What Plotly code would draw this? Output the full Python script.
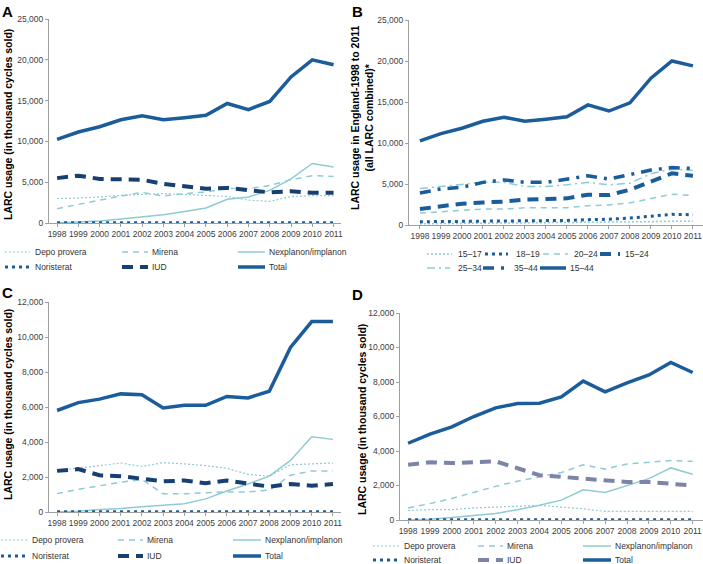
import plotly.graph_objects as go

years = list(range(1998, 2012))
year_labels = [str(y) for y in years]

# Panel A (all ages)
a_depo = [3000, 3050, 3200, 3400, 3500, 3600, 3500, 3400, 3250, 2800, 2650, 3250, 3350, 3350]
a_mirena = [1750, 2300, 2800, 3300, 3750, 3300, 3600, 3800, 4250, 4200, 4600, 5300, 5800, 5700]
a_nexplanon = [0, 100, 250, 500, 750, 1000, 1400, 1850, 2900, 3200, 4000, 5400, 7300, 6850]
a_noristerat = [30, 30, 30, 30, 30, 30, 30, 30, 30, 30, 30, 30, 30, 30]
a_iud = [5500, 5800, 5400, 5400, 5300, 4800, 4500, 4200, 4300, 4000, 3750, 3900, 3700, 3700]
a_total = [10250, 11150, 11800, 12650, 13150, 12650, 12900, 13200, 14650, 13900, 14900, 17900, 20000, 19400]

# Panel B (age groups, all LARC combined)
b_15_17 = [150, 170, 180, 200, 200, 220, 220, 240, 280, 300, 350, 400, 450, 450]
b_18_19 = [400, 420, 440, 460, 470, 500, 520, 560, 650, 700, 850, 1050, 1300, 1250]
b_20_24 = [1450, 1600, 1800, 1950, 1950, 2100, 2100, 2100, 2350, 2450, 2700, 3250, 3750, 3600]
b_15_24 = [1950, 2250, 2600, 2750, 2850, 3100, 3150, 3250, 3700, 3650, 4300, 5300, 6300, 6000]
b_25_34 = [4450, 4700, 5000, 5200, 5200, 4700, 4700, 4900, 5200, 4900, 5100, 6250, 6800, 6650]
b_35_44 = [3900, 4400, 4600, 5200, 5500, 5200, 5200, 5600, 6000, 5600, 6100, 6700, 7000, 6900]
b_15_44 = [10250, 11150, 11800, 12650, 13150, 12650, 12900, 13200, 14650, 13900, 14900, 17900, 20000, 19400]

# Panel C
c_depo = [2400, 2500, 2650, 2800, 2600, 2820, 2750, 2650, 2500, 2150, 2050, 2700, 2750, 2800]
c_mirena = [1050, 1300, 1500, 1700, 1850, 1050, 1050, 1100, 1150, 1150, 1250, 2100, 2350, 2350]
c_nexplanon = [0, 50, 150, 200, 300, 380, 470, 750, 1200, 1600, 2050, 2950, 4300, 4150]
c_noristerat = [20, 20, 20, 20, 20, 20, 20, 20, 20, 20, 20, 20, 20, 20]
c_iud = [2350, 2450, 2100, 2050, 1900, 1750, 1800, 1650, 1800, 1600, 1450, 1600, 1500, 1600]
c_total = [5800, 6250, 6450, 6750, 6700, 5950, 6100, 6100, 6600, 6520, 6900, 9400, 10880, 10880]

# Panel D
d_depo = [550, 600, 600, 700, 750, 800, 850, 750, 650, 500, 500, 500, 500, 500]
d_mirena = [700, 950, 1250, 1600, 1950, 2250, 2500, 2750, 3200, 2950, 3250, 3350, 3450, 3400]
d_nexplanon = [0, 50, 150, 280, 380, 600, 850, 1150, 1750, 1600, 2000, 2400, 3020, 2650]
d_noristerat = [20, 20, 20, 20, 20, 20, 20, 20, 20, 20, 20, 20, 20, 20]
d_iud = [3200, 3350, 3300, 3350, 3400, 3000, 2600, 2500, 2400, 2350, 2200, 2200, 2100, 2000]
d_total = [4450, 4980, 5400, 6000, 6500, 6750, 6770, 7140, 8050, 7430, 7950, 8410, 9130, 8550]

LIGHT = "#8ecbd4"
DARK = "#1b5c9b"
NAVY = "#173f70"
GREYBLUE = "#7c84a8"
FONT = "Liberation Sans, Arial, sans-serif"

W, H = 703, 564
def px(v):
    return v / W
def py(v):
    return (H - v) / H

# line styles
S_DEPO = dict(color=LIGHT, width=1.2, dash="2px,2px")
S_MIRENA = dict(color=LIGHT, width=1.5, dash="6px,5px")
S_NEXP = dict(color=LIGHT, width=1.5, dash="solid")
S_NORI = dict(color=DARK, width=3, dash="3px,4px")
S_IUD = dict(color=NAVY, width=4, dash="11px,7px")
S_IUD_D = dict(color=GREYBLUE, width=4, dash="11px,7px")
S_TOTAL = dict(color=DARK, width=3.5, dash="solid")
S_1517 = dict(color=LIGHT, width=1.5, dash="2px,2px")
S_1819 = dict(color=DARK, width=3, dash="3px,4px")
S_2024 = dict(color=LIGHT, width=1.5, dash="6px,5px")
S_1524 = dict(color=DARK, width=4, dash="11px,7px")
S_2534 = dict(color=LIGHT, width=1.5, dash="8px,4px,2px,4px")
S_3544 = dict(color=DARK, width=3.5, dash="11px,7px,3px,7px")
S_1544 = dict(color=DARK, width=3.5, dash="solid")

fig = go.Figure()
shapes = []
annotations = []
legfont = dict(family=FONT, size=8.5, color="#333333")

def add(x_ax, y_ax, y, name, style):
    fig.add_trace(go.Scatter(
        x=years, y=y, name=name, mode="lines", xaxis=x_ax, yaxis=y_ax,
        line=style, showlegend=False, hoverinfo="skip"))

def legend_item(name, style, x0, x1, xt, yy):
    shapes.append(dict(type="line", xref="paper", yref="paper",
                       x0=px(x0), x1=px(x1), y0=py(yy), y1=py(yy),
                       line=style))
    annotations.append(dict(text=name, xref="paper", yref="paper",
                            x=px(xt), y=py(yy), xanchor="left", yanchor="middle",
                            showarrow=False, font=legfont))

def product_panel(xa, ya, depo, mirena, nexp, nori, iud, total, iud_style, cols, rows):
    add(xa, ya, depo, "Depo provera", S_DEPO)
    add(xa, ya, mirena, "Mirena", S_MIRENA)
    add(xa, ya, nexp, "Nexplanon/implanon", S_NEXP)
    add(xa, ya, nori, "Noristerat", S_NORI)
    add(xa, ya, iud, "IUD", iud_style)
    add(xa, ya, total, "Total", S_TOTAL)
    items = [("Depo provera", S_DEPO), ("Mirena", S_MIRENA), ("Nexplanon/implanon", S_NEXP),
             ("Noristerat", S_NORI), ("IUD", iud_style), ("Total", S_TOTAL)]
    for i, (nm, st) in enumerate(items):
        c = cols[i % 3]
        legend_item(nm, st, c[0], c[1], c[2], rows[i // 3])

product_panel("x", "y", a_depo, a_mirena, a_nexplanon, a_noristerat, a_iud, a_total, S_IUD,
              [(5, 30, 33), (122, 148, 150), (238, 265, 267)], [252, 267])

b_items = [("15–17", b_15_17, S_1517), ("18–19", b_18_19, S_1819), ("20–24", b_20_24, S_2024),
           ("15–24", b_15_24, S_1524), ("25–34", b_25_34, S_2534), ("35–44", b_35_44, S_3544),
           ("15–44", b_15_44, S_1544)]
b_leg_pos = [(427, 452, 456, 254), (485, 508, 514, 254), (543, 568, 572, 254), (600, 620, 623, 254),
             (427, 450, 456, 268), (483, 507, 512, 268), (540, 566, 568, 268)]
for (nm, vals, st), (x0, x1, xt, yy) in zip(b_items, b_leg_pos):
    add("x2", "y2", vals, nm, st)
    legend_item(nm, st, x0, x1, xt, yy)

product_panel("x3", "y3", c_depo, c_mirena, c_nexplanon, c_noristerat, c_iud, c_total, S_IUD,
              [(1, 28, 30), (118, 143, 145), (233, 261, 263)], [540, 556])
product_panel("x4", "y4", d_depo, d_mirena, d_nexplanon, d_noristerat, d_iud, d_total, S_IUD_D,
              [(373, 399, 402), (478, 503, 505), (583, 611, 613)], [546, 560])

tickfont = dict(family=FONT, size=8.5, color="#404040")

def xaxis(x0, x1, r0, r1, anchor):
    return dict(domain=[px(x0), px(x1)], range=[r0, r1], anchor=anchor,
                tickmode="array", tickvals=years, ticktext=year_labels, tickangle=0,
                showline=True, linecolor="#a0a0a0", linewidth=1,
                ticks="outside", ticklen=3, tickcolor="#a0a0a0",
                showgrid=False, zeroline=False, tickfont=tickfont, fixedrange=True)

def yaxis(y_top, y_bottom, top, dtick, anchor):
    return dict(domain=[py(y_bottom), py(y_top)], range=[0, top], anchor=anchor,
                tickmode="linear", tick0=0, dtick=dtick, tickformat=",",
                showline=True, linecolor="#a0a0a0", linewidth=1,
                ticks="outside", ticklen=3, tickcolor="#a0a0a0",
                showgrid=False, zeroline=False, tickfont=tickfont, fixedrange=True)

for txt, xx, yy in [("A", 0, 1), ("B", 350, 1), ("C", 0, 282), ("D", 350, 284)]:
    annotations.append(dict(text="<b>%s</b>" % txt, x=px(xx), y=py(yy), xref="paper", yref="paper",
                            xanchor="left", yanchor="top", showarrow=False,
                            font=dict(family=FONT, size=15, color="#000000")))

title_font = dict(family=FONT, size=10.5, color="#000000")
ytitles = [
    ("<b>LARC usage (in thousand cycles sold)</b>", 8, 125),
    ("<b>LARC usage in England-1998 to 2011<br>(all LARC combined)*</b>", 362, 118),
    ("<b>LARC usage (in thousand cycles sold)</b>", 8, 405),
    ("<b>LARC usage (in thousand cycles sold)</b>", 362, 420),
]
for t, xx, yy in ytitles:
    annotations.append(dict(text=t, x=px(xx), y=py(yy), xref="paper", yref="paper",
                            xanchor="center", yanchor="middle", textangle=-90,
                            showarrow=False, font=title_font))

fig.update_layout(
    width=W, height=H,
    margin=dict(l=0, r=0, t=0, b=0, autoexpand=False),
    paper_bgcolor="white", plot_bgcolor="white",
    xaxis=xaxis(49, 341, 1997.62, 2011.35, "y"),
    yaxis=yaxis(19, 223, 25000, 5000, "x"),
    xaxis2=xaxis(409, 703, 1997.48, 2011.48, "y2"),
    yaxis2=yaxis(20, 225, 25000, 5000, "x2"),
    xaxis3=xaxis(49, 341, 1997.62, 2011.38, "y3"),
    yaxis3=yaxis(302, 512, 12000, 2000, "x3"),
    xaxis4=xaxis(400, 703, 1997.63, 2011.47, "y4"),
    yaxis4=yaxis(313, 520, 12000, 2000, "x4"),
    shapes=shapes,
    annotations=annotations,
    showlegend=False,
)

fig.write_html("out.html", config={"displayModeBar": False, "staticPlot": True},
               post_script="document.body.style.margin='0';document.body.style.overflow='hidden';")
